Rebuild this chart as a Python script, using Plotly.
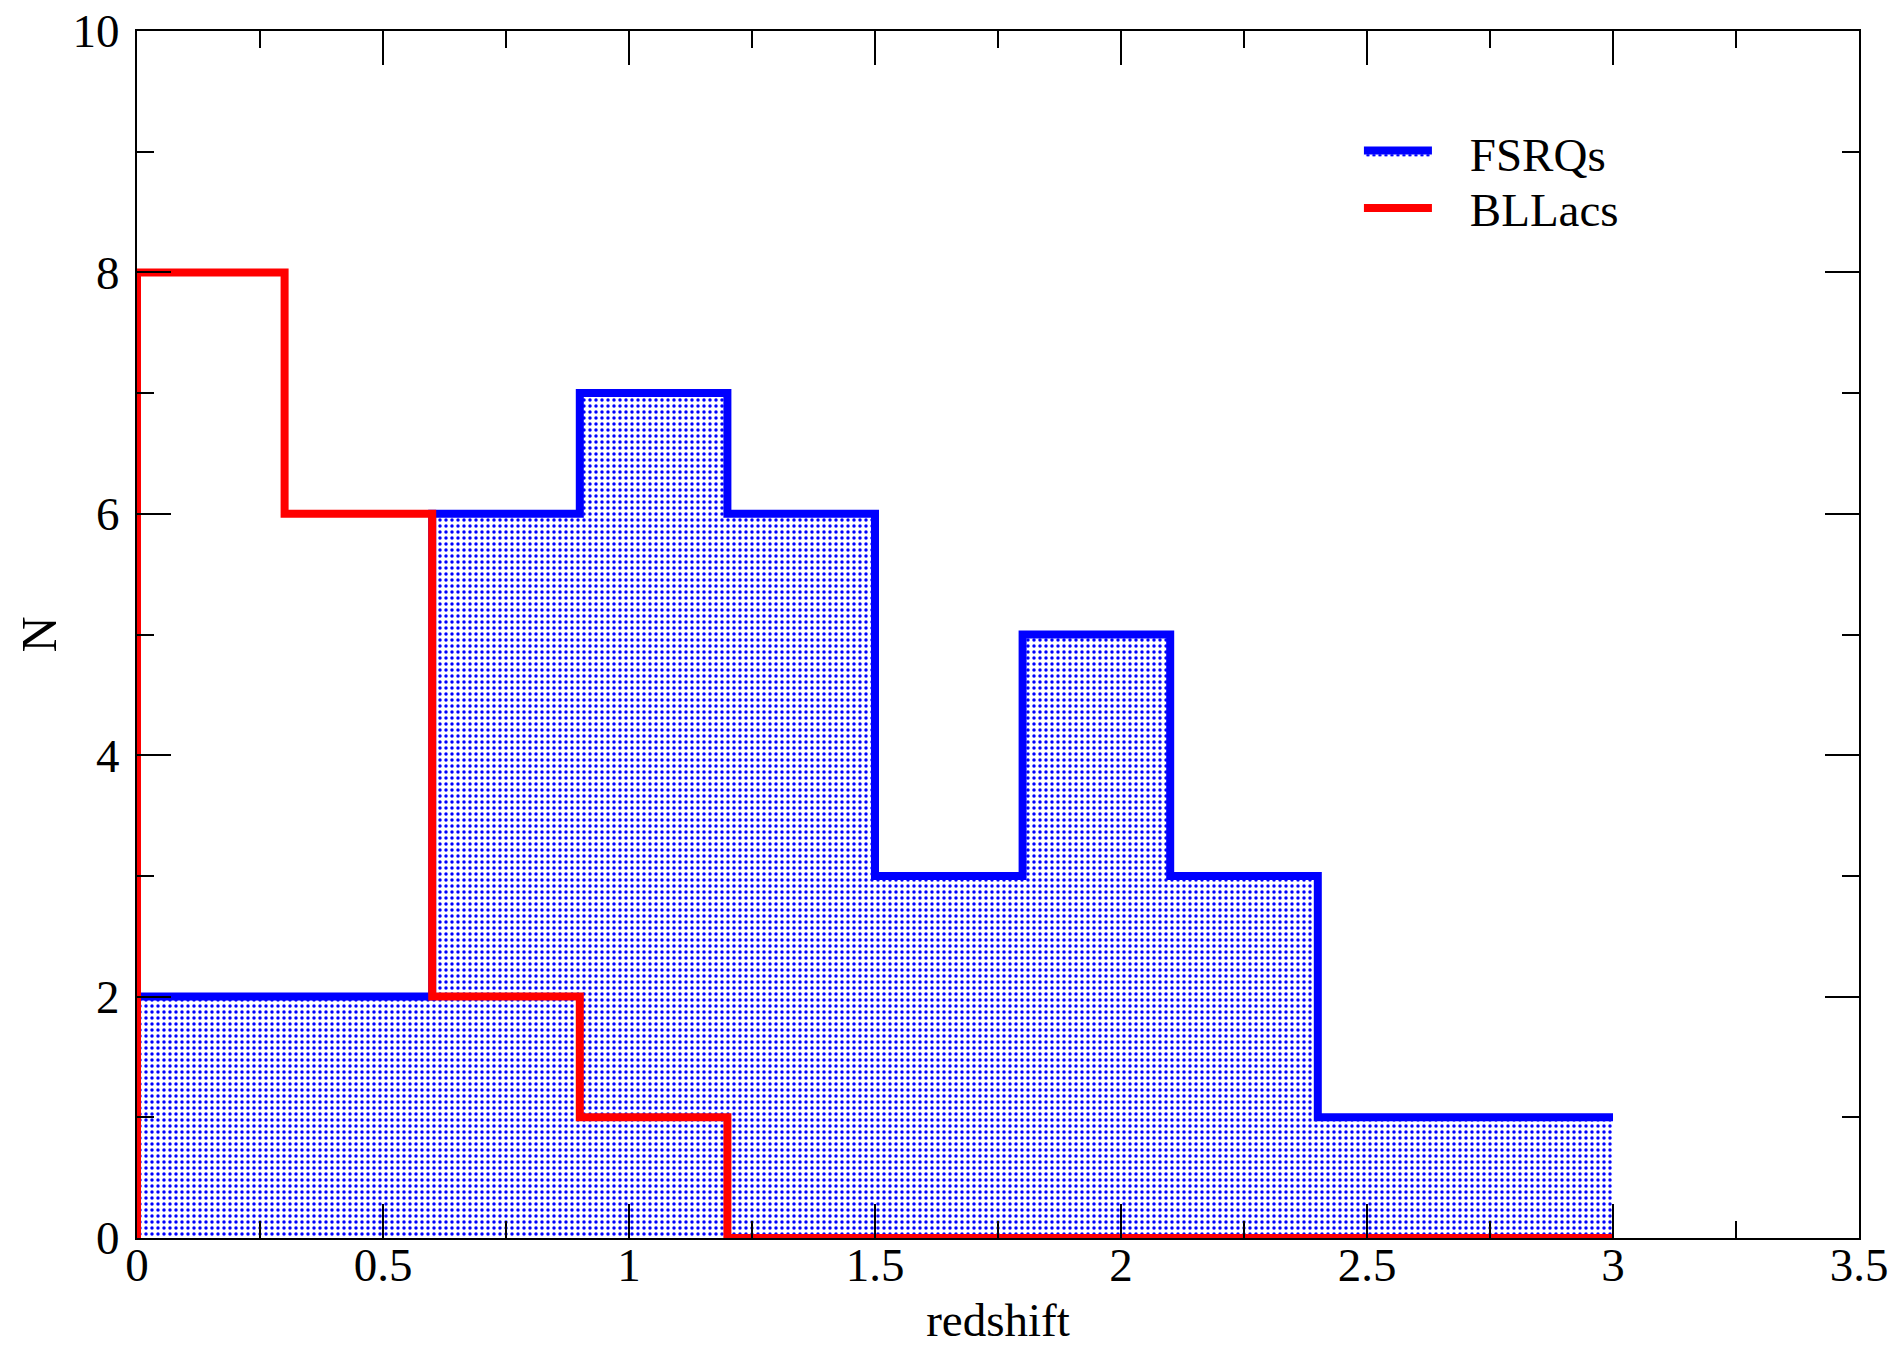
import plotly.graph_objects as go

# ---- data ----
bin_edges = [0.0, 0.3, 0.6, 0.9, 1.2, 1.5, 1.8, 2.1, 2.4, 2.7, 3.0]
fsrq_counts = [2, 2, 6, 7, 6, 3, 5, 3, 1, 1]
bllac_counts = [8, 6, 2, 1, 0, 0, 0, 0, 0, 0]
x_ticks = [0, 0.5, 1, 1.5, 2, 2.5, 3, 3.5]
y_ticks = [0, 2, 4, 6, 8, 10]
series_names = ["FSRQs", "BLLacs"]

FONT = "Liberation Serif"
PAD = "\u00a0\u00a0\u2009"

def step_xy(edges, counts):
    xs = [edges[0]] + list(edges)
    ys = [0] + list(counts) + [counts[-1]]
    return xs, ys

fx, fy = step_xy(bin_edges, fsrq_counts)
bx, by = step_xy(bin_edges, bllac_counts)

fig = go.Figure()
fig.add_trace(go.Scatter(
    x=fx, y=fy, mode="lines", name=PAD + series_names[0], legend="legend",
    line=dict(color="#0000ff", width=8, shape="hv"),
    fill="tozeroy", fillcolor="rgba(0,0,0,0)",
    fillpattern=dict(shape=".", fgcolor="#0000ff", bgcolor="white",
                     size=6, solidity=0.26, fillmode="replace"),
))
fig.add_trace(go.Scatter(
    x=bx, y=by, mode="lines", name=PAD + series_names[1], legend="legend2",
    line=dict(color="#ff0000", width=8, shape="hv"),
))

axis_common = dict(
    showgrid=False, zeroline=False, showline=True, linecolor="black",
    linewidth=2, mirror="allticks", ticks="inside", ticklen=34,
    tickwidth=2, tickcolor="black", automargin=False,
    tickfont=dict(family=FONT, size=47, color="black"),
)

fig.update_xaxes(
    range=[0, 3.5], tickvals=x_ticks, ticktext=[f"{v:g}" for v in x_ticks],
    minor=dict(ticks="inside", ticklen=17, tickwidth=2, tickcolor="black", dtick=0.25, tick0=0),
    title=dict(text="redshift", font=dict(family=FONT, size=47, color="black"), standoff=20),
    ticklabelstandoff=-15,
    **axis_common,
)
fig.update_yaxes(
    range=[0, 10], tickvals=y_ticks, ticktext=[str(v) for v in y_ticks],
    minor=dict(ticks="inside", ticklen=17, tickwidth=2, tickcolor="black", dtick=1, tick0=0),
    title=dict(text="N", font=dict(family=FONT, size=50, color="black"), standoff=0),
    ticklabelstandoff=6,
    **axis_common,
)

legend_common = dict(xanchor="left", yanchor="middle",
                     bgcolor="rgba(0,0,0,0)", borderwidth=0,
                     font=dict(family=FONT, size=47, color="black"),
                     itemwidth=68)

fig.update_layout(
    width=1899, height=1346,
    margin=dict(l=137, r=40, t=31, b=108, autoexpand=False),
    paper_bgcolor="white", plot_bgcolor="white",
    font=dict(family=FONT, size=47, color="black"),
    showlegend=True,
    legend=dict(x=0.7096, y=0.899, **legend_common),
    legend2=dict(x=0.7096, y=0.853, **legend_common),
)

fig.write_html("out.html")
